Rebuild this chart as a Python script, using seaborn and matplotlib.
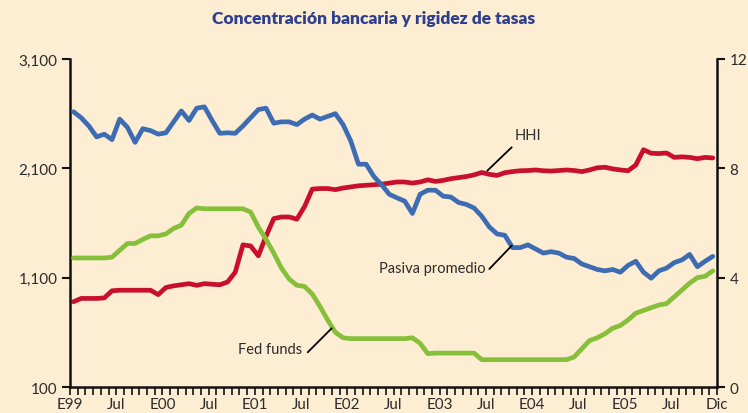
import numpy as np
import pandas as pd
import matplotlib
matplotlib.use("Agg")
import matplotlib.pyplot as plt
import seaborn as sns

# ---- data (monthly, Jan 1999 - Dec 2005) ----
meses = np.arange(84) + 0.45

hhi = [880, 910, 910, 910, 915, 980, 985, 985, 985, 985, 985, 945,
       1010, 1025, 1035, 1045, 1030, 1045, 1040, 1035, 1060, 1150, 1400, 1390,
       1300, 1480, 1640, 1655, 1655, 1635, 1750, 1910, 1915, 1915, 1905, 1920,
       1930, 1940, 1945, 1950, 1955, 1965, 1975, 1975, 1965, 1975, 1995, 1980,
       1990, 2005, 2015, 2025, 2040, 2062, 2045, 2035, 2060, 2070, 2078, 2080,
       2085, 2078, 2075, 2080, 2085, 2080, 2070, 2085, 2105, 2110, 2095, 2085,
       2078, 2130, 2270, 2238, 2235, 2240, 2200, 2205, 2200, 2188, 2200, 2195]

pasiva = [10.07, 9.85, 9.55, 9.15, 9.25, 9.05, 9.8, 9.5, 8.95, 9.45, 9.38, 9.25,
          9.3, 9.7, 10.1, 9.75, 10.2, 10.25, 9.75, 9.28, 9.3, 9.28, 9.55, 9.85,
          10.15, 10.2, 9.65, 9.7, 9.7, 9.6, 9.8, 9.95, 9.8, 9.9, 10.0, 9.6,
          9.0, 8.15, 8.15, 7.7, 7.4, 7.05, 6.92, 6.8, 6.35, 7.05, 7.2, 7.2,
          6.98, 6.95, 6.75, 6.68, 6.55, 6.25, 5.85, 5.6, 5.55, 5.1, 5.1, 5.2,
          5.05, 4.9, 4.95, 4.9, 4.75, 4.7, 4.5, 4.4, 4.3, 4.25, 4.3, 4.2,
          4.45, 4.6, 4.2, 3.98, 4.25, 4.35, 4.55, 4.65, 4.85, 4.4, 4.6, 4.78]

fed_funds = [4.72, 4.72, 4.72, 4.72, 4.72, 4.75, 5.0, 5.25, 5.25, 5.4, 5.53, 5.53,
             5.6, 5.8, 5.92, 6.35, 6.55, 6.52, 6.52, 6.52, 6.52, 6.52, 6.52, 6.4,
             5.85, 5.4, 4.9, 4.35, 3.95, 3.72, 3.68, 3.4, 2.95, 2.45, 2.0, 1.8,
             1.77, 1.77, 1.77, 1.77, 1.77, 1.77, 1.77, 1.77, 1.8, 1.6, 1.22, 1.24,
             1.24, 1.24, 1.24, 1.24, 1.24, 1.0, 1.0, 1.0, 1.0, 1.0, 1.0, 1.0,
             1.0, 1.0, 1.0, 1.0, 1.0, 1.1, 1.4, 1.7, 1.8, 1.95, 2.15, 2.25,
             2.45, 2.7, 2.8, 2.9, 3.0, 3.05, 3.3, 3.55, 3.8, 4.0, 4.05, 4.25]

xtick_pos = [0, 6, 12, 18, 24, 30, 36, 42, 48, 54, 60, 66, 72, 78, 84]
xtick_lab = ["E99", "Jul", "E00", "Jul", "E01", "Jul", "E02", "Jul",
             "E03", "Jul", "E04", "Jul", "E05", "Jul", "Dic"]

df = pd.DataFrame({"mes": meses, "HHI": hhi, "Pasiva": pasiva, "Fed": fed_funds})

# ---- style ----
BG = "#FDEED3"
AZUL = "#3D6CB3"
ROJO = "#C8102E"
VERDE = "#86BF3A"
TXT = "#2B2B2B"

sns.set_theme(style="white")
plt.rcParams["font.family"] = ["Lato", "DejaVu Sans"]

fig = plt.figure(figsize=(7.48, 4.14), dpi=100, facecolor=BG)
ax = fig.add_axes([0.0936, 0.0628, 0.865, 0.7923])
ax.set_facecolor(BG)
ax2 = ax.twinx()

sns.lineplot(data=df, x="mes", y="Fed", ax=ax2, color=VERDE, linewidth=3.4)
sns.lineplot(data=df, x="mes", y="Pasiva", ax=ax2, color=AZUL, linewidth=3.4)
sns.lineplot(data=df, x="mes", y="HHI", ax=ax, color=ROJO, linewidth=3.4)

ax.set_xlim(0, 84)
ax.set_ylim(100, 3100)
ax2.set_ylim(0, 12)
ax.set_yticks([100, 1100, 2100, 3100])
ax.set_yticklabels(["100", "1,100", "2,100", "3,100"])
ax2.set_yticks([0, 4, 8, 12])
ax.set_xticks(xtick_pos)
ax.set_xticklabels(xtick_lab)
ax.set_xticks(np.arange(0, 85), minor=True)

for a in (ax, ax2):
    a.set_xlabel("")
    a.set_ylabel("")
    a.spines["top"].set_visible(False)
    for s in ("left", "right", "bottom"):
        a.spines[s].set_linewidth(1.8)
        a.spines[s].set_color("#111111")
ax.spines["right"].set_visible(False)
ax2.spines["left"].set_visible(False)
ax2.spines["bottom"].set_visible(False)

ax.tick_params(axis="y", left=True, right=False, direction="out", length=6, width=1.5,
               color="#111111", labelsize=11, labelcolor=TXT, pad=3)
ax2.tick_params(axis="y", right=True, left=False, direction="out", length=6, width=1.5,
                color="#111111", labelsize=11, labelcolor=TXT, pad=3)
ax.tick_params(axis="x", which="both", bottom=True, top=False, direction="out",
               length=6, width=1.2, color="#111111", labelsize=11, labelcolor=TXT, pad=1)

# ---- labels ----
fig.text(528 / 748, 1 - 136 / 414, "HHI", fontsize=10.5, color=TXT,
         ha="center", va="center")
fig.add_artist(plt.Line2D([511.7 / 748, 487.3 / 748], [1 - 148.3 / 414, 1 - 171.7 / 414],
                          color="black", lw=1.3))
fig.text(432 / 748, 1 - 269 / 414, "Pasiva promedio", fontsize=10.5, color=TXT,
         ha="center", va="center")
fig.add_artist(plt.Line2D([489.3 / 748, 511.7 / 748], [1 - 270 / 414, 1 - 246.7 / 414],
                          color="black", lw=1.3))
fig.text(270 / 748, 1 - 350 / 414, "Fed funds", fontsize=10.5, color=TXT,
         ha="center", va="center")
fig.add_artist(plt.Line2D([307.7 / 748, 331.7 / 748], [1 - 353.3 / 414, 1 - 329.3 / 414],
                          color="black", lw=1.3))

fig.text(0.5, 1 - 19 / 414, "Concentración bancaria y rigidez de tasas",
         ha="center", va="center", fontsize=12.5, fontweight="heavy", color="#2E3F8E")

fig.savefig("out.png", dpi=100, facecolor=BG)
